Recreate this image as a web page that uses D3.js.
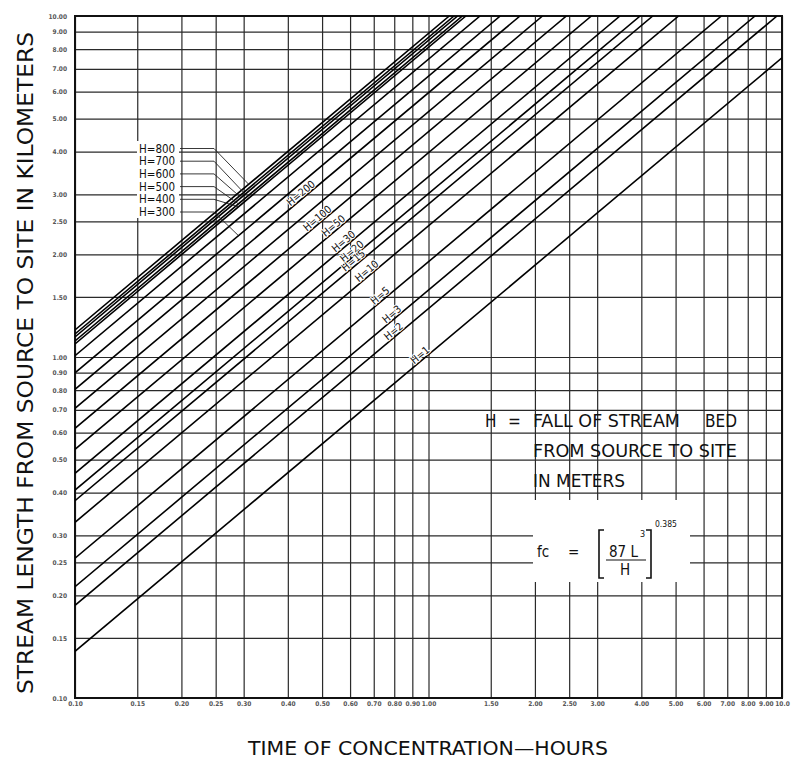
<!DOCTYPE html>
<html><head><meta charset="utf-8">
<script src="https://cdn.jsdelivr.net/npm/d3@7"></script>
<style>body{margin:0;background:#fff}svg{display:block}</style>
</head><body><svg id="c" width="791" height="758"></svg>
<script>
// ---- data ----
const xTickValues = [0.10,0.15,0.20,0.25,0.30,0.40,0.50,0.60,0.70,0.80,0.90,1.00,1.50,2.00,2.50,3.00,4.00,5.00,6.00,7.00,8.00,9.00,10.0];
const xTickLabels = ["0.10","0.15","0.20","0.25","0.30","0.40","0.50","0.60","0.70","0.80","0.90","1.00","1.50","2.00","2.50","3.00","4.00","5.00","6.00","7.00","8.00","9.00","10.0"];
const yTickValues = [10,9,8,7,6,5,4,3,2.5,2,1.5,1,0.9,0.8,0.7,0.6,0.5,0.4,0.3,0.25,0.2,0.15,0.1];
const yTickLabels = ["10.00","9.00","8.00","7.00","6.00","5.00","4.00","3.00","2.50","2.00","1.50","1.00","0.90","0.80","0.70","0.60","0.50","0.40","0.30","0.25","0.20","0.15","0.10"];

// H lines: start at time 0.10 h (left edge); end where they leave the chart
const lineNames       = ["H=800","H=700","H=600","H=500","H=400","","H=300","H=200","","H=100","H=50","H=30","H=20","H=15","H=10","H=5","H=3","H=2","H=1"];
const lineStartTime   = [0.10,0.10,0.10,0.10,0.10,0.10,0.10,0.10,0.10,0.10,0.10,0.10,0.10,0.10,0.10,0.10,0.10,0.10,0.10];
const lineStartLength = [1.200,1.168,1.145,1.114,1.092,1.009,0.899,0.804,0.707,0.618,0.536,0.456,0.407,0.379,0.3275,0.257,0.212,0.187,0.137];
const lineEndTime     = [1.145,1.181,1.209,1.247,1.276,1.399,1.596,1.815,2.102,2.455,2.89,3.48,3.97,4.31,5.10,6.74,8.39,9.68,10.0];
const lineEndLength   = [10,10,10,10,10,10,10,10,10,10,10,10,10,10,10,10,10,10,7.54];

// in-line labels (time at which the label sits on its line)
const inlineLabelNames = ["H=200","H=100","H=50","H=30","H=20","H=15","H=10","H=5","H=3","H=2","H=1"];
const inlineLabelTime  = [0.445,0.495,0.55,0.587,0.62,0.626,0.683,0.745,0.804,0.813,0.967];

// legend-style labels with leader lines (upper left)
const leaderNames = ["H=800","H=700","H=600","H=500","H=400","H=300"];
const leaderTime  = [0.31,0.30,0.295,0.29,0.29,0.29];

const noteLines = ["FROM SOURCE TO SITE","IN METERS"];

// ---- drawing ----
const svg = d3.select("#c");
const FONT = "'Liberation Sans Narrow','Arial Narrow','DejaVu Sans Condensed',sans-serif";
const x = d3.scaleLog().domain([0.1,10]).range([75,782]);
const y = d3.scaleLog().domain([0.1,10]).range([698,16]);
const [X0,X1] = x.range(), [Y0,Y1] = y.range();

svg.append("rect").attr("width",791).attr("height",758).attr("fill","#fff");

// grid via axes
const gx = svg.append("g").attr("transform",`translate(0,${Y0})`)
  .call(d3.axisBottom(x).tickValues(xTickValues).tickFormat((d,i)=>xTickLabels[i])
        .tickSize(-(Y0-Y1)).tickPadding(3));
const gy = svg.append("g").attr("transform",`translate(${X0},0)`)
  .call(d3.axisLeft(y).tickValues(yTickValues).tickFormat((d,i)=>yTickLabels[i])
        .tickSize(-(X1-X0)).tickPadding(8));
[gx,gy].forEach(g=>{
  g.select(".domain").remove();
  g.selectAll(".tick line").attr("stroke","#2a2a2a").attr("stroke-width",1.2);
  g.selectAll(".tick text").attr("fill","#555").attr("font-family",FONT)
    .attr("font-size",6.5).attr("font-weight","bold");
});

// formula knock-out box
svg.append("rect").attr("x",533).attr("y",500).attr("width",157).attr("height",82).attr("fill","#fff");

// plot frame
svg.append("rect").attr("x",X0).attr("y",Y1).attr("width",X1-X0).attr("height",Y0-Y1)
  .attr("fill","none").attr("stroke","#111").attr("stroke-width",2);

svg.append("clipPath").attr("id","plot").append("rect")
  .attr("x",X0).attr("y",Y1).attr("width",X1-X0).attr("height",Y0-Y1);

const lines = lineNames.map((n,i)=>({name:n,
  p0:[lineStartTime[i],lineStartLength[i]], p1:[lineEndTime[i],lineEndLength[i]]}));
const lineGen = d3.line().x(d=>x(d[0])).y(d=>y(d[1]));
svg.append("g").attr("clip-path","url(#plot)").selectAll("path").data(lines).join("path")
  .attr("d",d=>lineGen([d.p0,d.p1])).attr("fill","none")
  .attr("stroke","#000").attr("stroke-width",1.6);

function pointAt(line,t){
  const a=Math.log(line.p0[0]), b=Math.log(line.p1[0]);
  const f=(Math.log(t)-a)/(b-a);
  const L=Math.exp(Math.log(line.p0[1])+f*(Math.log(line.p1[1])-Math.log(line.p0[1])));
  return [x(t),y(L)];
}
function angleOf(line){
  return Math.atan2(y(line.p1[1])-y(line.p0[1]), x(line.p1[0])-x(line.p0[0]))*180/Math.PI;
}

// in-line labels
inlineLabelNames.forEach((n,i)=>{
  const ln = lines.find(l=>l.name===n);
  const [px,py] = pointAt(ln,inlineLabelTime[i]);
  svg.append("text").attr("transform",`translate(${px},${py}) rotate(${angleOf(ln)})`)
    .attr("text-anchor","middle").attr("dy",-1.5)
    .attr("font-family",FONT).attr("font-size",10.5).attr("fill","#111")
    .attr("stroke","#fff").attr("stroke-width",2).attr("paint-order","stroke")
    .text(n);
});

// leader labels block
svg.append("rect").attr("x",137).attr("y",141).attr("width",42).attr("height",77).attr("fill","#fff");
leaderNames.forEach((n,i)=>{
  const ty = 148.5 + i*12.7;
  svg.append("text").attr("x",139).attr("y",ty).attr("dy","0.36em")
    .attr("font-family",FONT).attr("font-size",11.5).attr("fill","#111").text(n);
  const ln = lines.find(l=>l.name===n);
  const [px,py] = pointAt(ln,leaderTime[i]);
  svg.append("path").attr("d",`M180,${ty}H${214}L${px},${py}`)
    .attr("fill","none").attr("stroke","#222").attr("stroke-width",0.9);
});

// axis titles
svg.append("text").attr("transform","translate(33,363) rotate(-90)")
  .attr("text-anchor","middle").attr("font-family",FONT).attr("font-size",22)
  .attr("fill","#111").attr("textLength",662).attr("lengthAdjust","spacingAndGlyphs")
  .text("STREAM LENGTH FROM SOURCE TO SITE IN KILOMETERS");
svg.append("text").attr("x",248).attr("y",755)
  .attr("font-family",FONT).attr("font-size",19)
  .attr("fill","#111").attr("textLength",360).attr("lengthAdjust","spacingAndGlyphs")
  .text("TIME OF CONCENTRATION—HOURS");

// note
const note = svg.append("g").attr("font-family",FONT).attr("font-size",17).attr("fill","#111");
note.append("text").attr("x",485).attr("y",427).text("H");
note.append("text").attr("x",508).attr("y",427).text("=");
note.append("text").attr("x",533).attr("y",427).attr("textLength",147).attr("lengthAdjust","spacingAndGlyphs").text("FALL OF STREAM");
note.append("text").attr("x",705).attr("y",427).attr("textLength",32).attr("lengthAdjust","spacingAndGlyphs").text("BED");
note.append("text").attr("x",533).attr("y",457).attr("textLength",204).attr("lengthAdjust","spacingAndGlyphs").text(noteLines[0]);
note.append("text").attr("x",533).attr("y",487).attr("textLength",92).attr("lengthAdjust","spacingAndGlyphs").text(noteLines[1]);

// formula
const fm = svg.append("g").attr("font-family",FONT).attr("fill","#111");
fm.append("text").attr("x",537).attr("y",557).attr("font-size",15).text("fc");
fm.append("text").attr("x",568).attr("y",557).attr("font-size",15).text("=");
fm.append("path").attr("d","M604,530H599V578H604 M646,530H651V578H646")
  .attr("fill","none").attr("stroke","#111").attr("stroke-width",1.6);
fm.append("text").attr("x",609).attr("y",557).attr("font-size",15).text("87 L");
fm.append("text").attr("x",640).attr("y",537).attr("font-size",9).text("3");
fm.append("line").attr("x1",606).attr("x2",646).attr("y1",560).attr("y2",560).attr("stroke","#111").attr("stroke-width",1.2);
fm.append("text").attr("x",620).attr("y",575).attr("font-size",15).text("H");
fm.append("text").attr("x",655).attr("y",527).attr("font-size",8.5).text("0.385");
</script></body></html>
